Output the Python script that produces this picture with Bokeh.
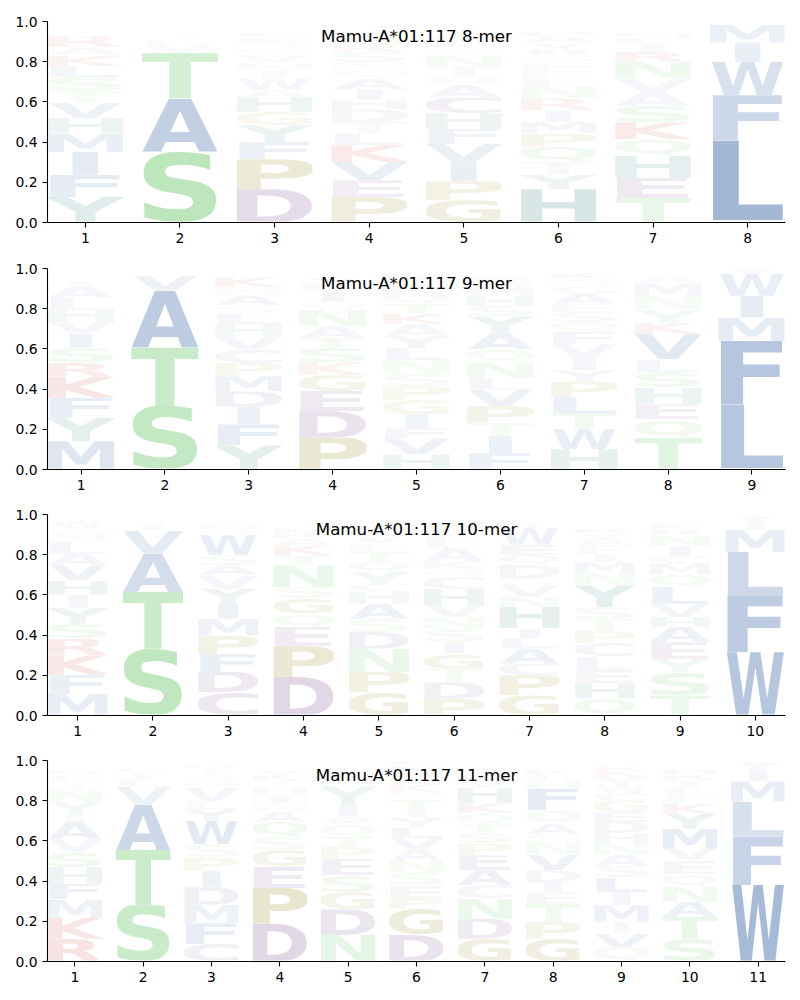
import base64
from bokeh.plotting import figure
from bokeh.layouts import column
from bokeh.models import ColumnDataSource, FixedTicker, PrintfTickFormatter, Label, Range1d
from bokeh.embed import file_html
from bokeh.resources import INLINE

allele = "Mamu-A*01:117"
peptide_lengths = [8, 9, 10, 11]
y_ticks = [0.0, 0.2, 0.4, 0.6, 0.8, 1.0]

# letters of every position, stacked from bottom to top, with their heights
letters_8mer = ["YFIMHVTSLKARENQGW", "SATVGLICMQNE", "DPFYGHAWINVQSELKTMR",
                "PEVKLTDHIAQNSRGCFYMW", "GPIVFHCAQTNSLEDKRYMW", "HYTQPMIRNLEFSWVADGKC",
                "TEHQKSAVNRILMDGPF", "VLFWIMY"]
heights_8mer = [
    [.127, .111, .113, .091, .078, .076, .056, .071, .055, .053, .041, .055, .02, .02, .015, .012, .006],
    [.351, .265, .227, .046, .025, .02, .018, .015, .012, .01, .008, .003],
    [.166, .149, .086, .083, .066, .075, .033, .058, .04, .04, .036, .03, .03, .028, .025, .02, .018, .011, .006],
    [.127, .083, .091, .083, .058, .058, .063, .05, .05, .053, .04, .04, .05, .04, .035, .03, .015, .015, .015, .004],
    [.111, .094, .096, .091, .075, .079, .078, .066, .041, .05, .053, .04, .035, .025, .02, .015, .01, .01, .01, .005],
    [.166, .073, .063, .075, .066, .058, .058, .058, .058, .041, .04, .04, .035, .035, .03, .03, .025, .02, .015, .014],
    [.122, .1, .11, .083, .083, .083, .07, .066, .083, .05, .04, .03, .025, .02, .015, .01, .01],
    [.012, .397, .224, .166, .096, .09, .015],
]

letters_9mer = ["MYFKRSIVHLATGNQEW", "STAVLIGM", "YFIDMPCVHLSANKTQW", "PDEGKSTANQILVHRMF",
                "HVFIGPSNLYAKTQREMDW", "FITPVLNQAYSHMGEDKR", "HWTLPYIVFQSEAGNKM",
                "TQEHSLVKYNMAIRG", "VLFMIWY"]
heights_9mer = [
    [.141, .116, .1, .105, .073, .071, .071, .056, .063, .058, .058, .03, .02, .015, .012, .008, .003],
    [.316, .291, .282, .075, .012, .01, .008, .006],
    [.12, .105, .088, .078, .075, .066, .066, .063, .066, .053, .04, .05, .04, .05, .02, .015, .009],
    [.158, .133, .1, .078, .066, .071, .05, .058, .08, .037, .055, .04, .03, .02, .012, .008, .004],
    [.075, .08, .05, .07, .07, .07, .06, .07, .06, .06, .06, .05, .05, .05, .04, .03, .03, .02, .005],
    [.083, .083, .066, .083, .083, .058, .075, .066, .083, .083, .05, .05, .04, .03, .025, .02, .012, .01],
    [.1, .1, .075, .083, .075, .058, .066, .066, .058, .05, .05, .04, .05, .04, .035, .03, .02],
    [.158, .091, .075, .083, .075, .066, .125, .058, .066, .066, .066, .03, .02, .012, .009],
    [.008, .316, .316, .116, .108, .108, .028],
]

letters_10mer = ["MFKRSYIHVALNTWGQ", "STAVILGMC", "CDFPMIYVASWQNTGL", "DPEQGSNTKARHIVLM",
                 "GPNDSAHCYQTEVKLIRMF", "PDTGISNVHCQKALEFMRY", "GPCALIHNVSDQEWTKY",
                 "QHELCPTSYNMIFAVRKDGW", "TSYEAHVLQMCINRKFGD", "WFLMIY"]
heights_10mer = [
    [.108, .095, .096, .083, .075, .078, .066, .071, .075, .058, .058, .04, .035, .03, .02, .012],
    [.332, .282, .191, .116, .03, .02, .015, .01, .004],
    [.116, .1, .091, .091, .083, .075, .075, .066, .05, .05, .1, .03, .025, .02, .015, .013],
    [.191, .154, .095, .066, .075, .058, .108, .05, .05, .033, .03, .025, .02, .02, .015, .01],
    [.116, .1, .116, .083, .066, .075, .061, .033, .066, .05, .05, .04, .035, .03, .025, .02, .015, .01, .009],
    [.083, .083, .066, .075, .058, .066, .058, .058, .083, .058, .04, .04, .066, .04, .035, .03, .025, .02, .016],
    [.1, .1, .058, .075, .05, .05, .108, .05, .058, .035, .066, .05, .05, .083, .03, .02, .017],
    [.083, .075, .066, .066, .066, .058, .058, .058, .108, .066, .05, .04, .04, .03, .03, .025, .02, .015, .012, .02],
    [.1, .116, .066, .083, .075, .05, .066, .083, .066, .05, .04, .05, .05, .03, .025, .02, .015, .015],
    [.316, .282, .216, .108, .04, .038],
]

letters_11mer = ["RKMFHSVAIYNTLGEDW", "STAVLIGQMN", "CFMDIPSWYLVNQTGA", "DPEGSQANIHTKVLRM",
                 "NDGSEPTQAIYHVLKR", "DGPESNAVLYITQKHRMF", "GDNCAEPSTQKHVLIRM",
                 "GPTEIDVNSAQFHLKMRY", "QVTMILSANHDEGCWYKRFP", "STANQEVMYKFLIRHGDC", "WFLMIY"]
heights_11mer = [
    [.113, .103, .093, .078, .083, .075, .066, .083, .04, .058, .058, .04, .035, .03, .02, .015, .01],
    [.28, .275, .225, .091, .035, .03, .025, .02, .012, .007],
    [.088, .1, .091, .087, .08, .066, .066, .116, .058, .04, .066, .03, .03, .03, .025, .017],
    [.188, .178, .105, .083, .066, .075, .05, .042, .04, .035, .035, .03, .025, .02, .015, .013],
    [.133, .126, .087, .083, .083, .058, .05, .066, .042, .05, .091, .04, .03, .025, .02, .016],
    [.133, .13, .05, .066, .066, .06, .05, .06, .05, .05, .04, .05, .04, .04, .03, .03, .03, .025],
    [.113, .1, .1, .066, .075, .075, .058, .05, .05, .05, .05, .075, .04, .03, .03, .02, .018],
    [.113, .083, .091, .058, .05, .058, .078, .063, .042, .05, .066, .108, .04, .03, .025, .02, .015, .01],
    [.07, .075, .058, .083, .066, .075, .058, .058, .058, .05, .058, .05, .058, .04, .04, .04, .03, .025, .02, .01],
    [.113, .108, .075, .075, .066, .066, .058, .1, .075, .05, .04, .04, .035, .03, .025, .02, .015, .009],
    [.38, .241, .175, .1, .058, .046],
]

panel_letters = [letters_8mer, letters_9mer, letters_10mer, letters_11mer]
panel_heights = [heights_8mer, heights_9mer, heights_10mer, heights_11mer]

# ---- styling -------------------------------------------------------------
GROUP_COLOR = {
    "blue": (80, 118, 175), "green": (112, 200, 112), "purple": (132, 95, 150),
    "olive": (155, 145, 45), "red": (205, 60, 60), "teal": (75, 145, 140),
}
AA_GROUP = {}
for g, aas in [("blue", "AVLIMFW"), ("green", "STNQ"), ("purple", "DEC"),
               ("olive", "PG"), ("red", "KR"), ("teal", "HY")]:
    for a in aas:
        AA_GROUP[a] = g

# approximate ink widths (em) of DejaVu Sans Bold capitals
INK = {"A": .77, "C": .61, "D": .69, "E": .53, "F": .51, "G": .70, "H": .65, "I": .19,
       "K": .68, "L": .51, "M": .81, "N": .65, "P": .59, "Q": .73, "R": .67, "S": .60,
       "T": .66, "V": .77, "W": 1.10, "Y": .71}
SHIFT = {"E": .016, "F": .01, "L": .026, "P": .02, "D": .02, "K": .046, "R": .04}
VB = {"C": (-.015, .744), "G": (-.015, .744), "S": (-.015, .744), "Q": (-.16, .744)}
WIDE_REF = 0.55
COL_W = 0.8

PLOT_W = 792
INNER_W, INNER_H = 738, 201
# (figure height, top border, bottom border) of each panel
PANEL_BOX = [(254, 21, 32), (246, 14, 31), (246, 14, 31), (242, 14, 27)]


def letter_url(ch, h, px_w, px_h):
    r, g, b = GROUP_COLOR[AA_GROUP[ch]]
    alpha = max(0.015, min(0.9, 1.33 * h - 0.005))
    ink = INK[ch]
    bot, top = VB.get(ch, (0.0, 0.729))
    x0 = -ink / 2 * 1000
    y0 = -top * 1000
    vw = ink * 1000
    vh = (top - bot) * 1000
    sh = SHIFT.get(ch, 0.0) * 1000
    svg = (f'<svg xmlns="http://www.w3.org/2000/svg" width="{max(px_w * 2, 1):.2f}" '
           f'height="{max(px_h * 2, 1):.2f}" viewBox="{x0:.1f} {y0:.1f} {vw:.1f} {vh:.1f}" '
           f'preserveAspectRatio="none"><text x="{-sh:.1f}" y="0" text-anchor="middle" '
           f'font-family="DejaVu Sans" font-weight="bold" font-size="1000" '
           f'fill="rgb({r},{g},{b})" fill-opacity="{alpha:.3f}">{ch}</text></svg>')
    return "data:image/svg+xml;base64," + base64.b64encode(svg.encode()).decode()


def make_panel(n, letters, heights, box):
    fig_h, top_b, bot_b = box
    p = figure(width=PLOT_W, height=fig_h, x_range=Range1d(0.6, n + 0.4), y_range=Range1d(0, 1),
               output_backend="svg", toolbar_location=None, title=None,
               min_border_left=47, min_border_right=7, min_border_top=top_b, min_border_bottom=bot_b)
    px_per_x = INNER_W / (n - 0.2)
    xs, ys, ws, hs, urls = [], [], [], [], []
    for pos, (lets, hts) in enumerate(zip(letters, heights), start=1):
        total = sum(hts)
        bottom = 0.0
        for ch, hv in zip(lets, hts):
            h = hv / total
            w = COL_W * min(1.0, INK[ch] / WIDE_REF)
            xs.append(pos)
            ys.append(bottom)
            ws.append(w)
            hs.append(h)
            urls.append(letter_url(ch, h, w * px_per_x, h * INNER_H))
            bottom += h
    src = ColumnDataSource(dict(x=xs, y=ys, w=ws, h=hs, url=urls))
    p.image_url(url="url", x="x", y="y", w="w", h="h", anchor="bottom_center", source=src)

    p.add_layout(Label(x=(n + 1) / 2, y=0.928, text=f"{allele} {n}-mer", text_align="center",
                       text_baseline="alphabetic", text_font="DejaVu Sans",
                       text_font_size="16.7px", text_color="black"))

    p.xaxis.ticker = FixedTicker(ticks=list(range(1, n + 1)))
    p.yaxis.ticker = FixedTicker(ticks=y_ticks)
    p.yaxis.formatter = PrintfTickFormatter(format="%.1f")
    p.xgrid.visible = False
    p.ygrid.visible = False
    p.outline_line_color = None
    p.background_fill_color = "white"
    p.border_fill_color = "white"
    for ax in p.axis:
        ax.major_tick_out = 5
        ax.major_tick_in = 0
        ax.minor_tick_out = 0
        ax.minor_tick_in = 0
        ax.major_label_standoff = 5
        ax.major_label_text_font = "DejaVu Sans"
        ax.major_label_text_font_size = "13.9px"
        ax.major_label_text_color = "black"
        ax.axis_line_color = "black"
        ax.axis_line_width = 1.1
        ax.major_tick_line_color = "black"
        ax.major_tick_line_width = 1.1
    return p


panels = [make_panel(n, L, H, B) for n, L, H, B in
          zip(peptide_lengths, panel_letters, panel_heights, PANEL_BOX)]
layout = column(*panels, spacing=0)

with open("out.html", "w") as f:
    f.write(file_html(layout, INLINE))
